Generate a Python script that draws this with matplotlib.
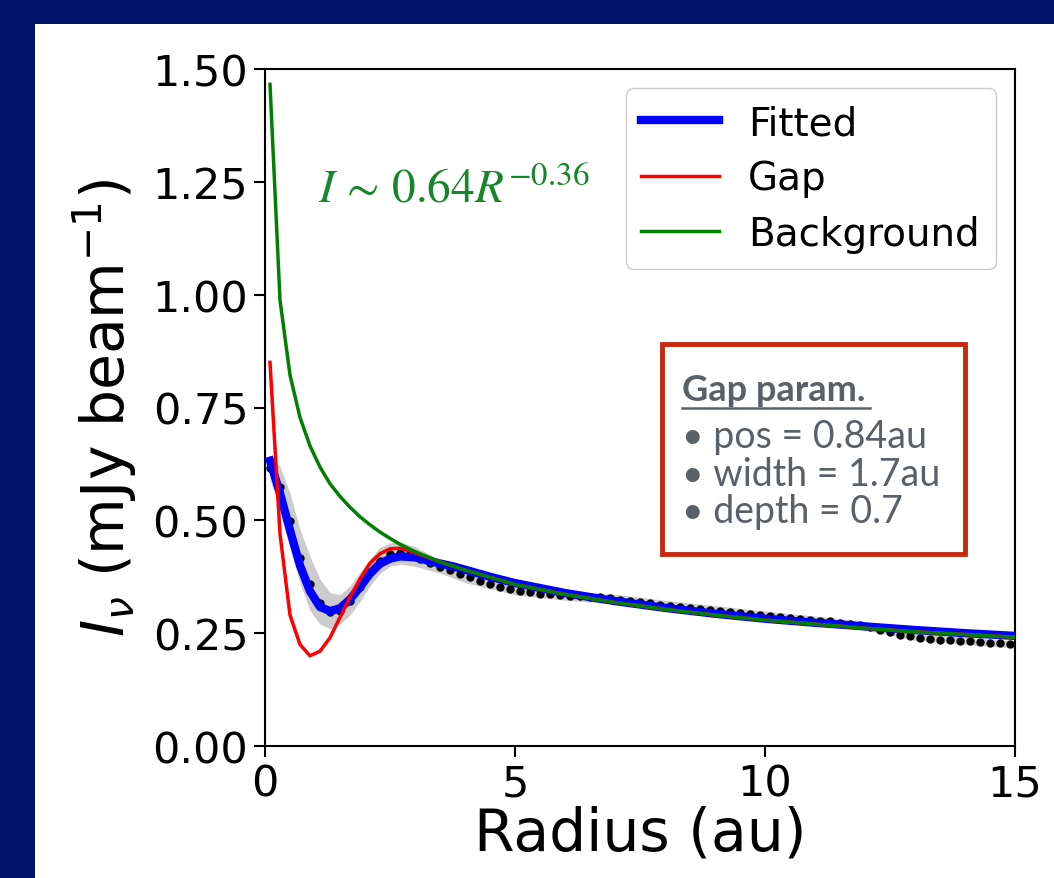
import numpy as np
import matplotlib.pyplot as plt
from matplotlib.patches import Rectangle
from matplotlib.lines import Line2D

# observed profile (black dots)
r_obs = [0.1, 0.3, 0.5, 0.7, 0.9, 1.1, 1.3, 1.5, 1.7, 1.9,
         2.1, 2.3, 2.5, 2.7, 2.9, 3.1, 3.3, 3.5, 3.7, 3.9,
         4.1, 4.3, 4.5, 4.7, 4.9, 5.1, 5.3, 5.5, 5.7, 5.9,
         6.1, 6.3, 6.5, 6.7, 6.9, 7.1, 7.3, 7.5, 7.7, 7.9,
         8.1, 8.3, 8.5, 8.7, 8.9, 9.1, 9.3, 9.5, 9.7, 9.9,
         10.1, 10.3, 10.5, 10.7, 10.9, 11.1, 11.3, 11.5, 11.7, 11.9,
         12.1, 12.3, 12.5, 12.7, 12.9, 13.1, 13.3, 13.5, 13.7, 13.9,
         14.1, 14.3, 14.5, 14.7, 14.9]
I_obs = [0.615, 0.573, 0.499, 0.416, 0.359, 0.316, 0.297, 0.300, 0.321, 0.353,
         0.385, 0.410, 0.425, 0.428, 0.425, 0.415, 0.405, 0.397, 0.389, 0.381,
         0.374, 0.366, 0.359, 0.352, 0.348, 0.344, 0.341, 0.337, 0.336, 0.334,
         0.333, 0.332, 0.331, 0.330, 0.327, 0.324, 0.321, 0.318, 0.316, 0.313,
         0.311, 0.309, 0.306, 0.304, 0.302, 0.299, 0.297, 0.295, 0.292, 0.290,
         0.288, 0.286, 0.284, 0.282, 0.280, 0.278, 0.276, 0.273, 0.270, 0.267,
         0.263, 0.258, 0.252, 0.247, 0.243, 0.240, 0.237, 0.235, 0.234, 0.233,
         0.232, 0.231, 0.229, 0.228, 0.225]

# grey uncertainty band
r_band = [0.1, 0.3, 0.5, 0.7, 0.9, 1.1, 1.3, 1.5, 1.7, 1.9, 2.1, 2.3, 2.5, 2.7,
          3.0, 3.5, 4.0, 5.0, 6.0, 7.0, 8.0, 9.0, 10.0, 11.0, 12.0, 13.0, 14.0, 15.0]
band_lo = [0.59, 0.52, 0.44, 0.36, 0.30, 0.27, 0.26, 0.27, 0.29, 0.32, 0.355, 0.383, 0.398, 0.403,
           0.398, 0.383, 0.362, 0.335, 0.323, 0.315, 0.303, 0.292, 0.281, 0.270, 0.257, 0.234, 0.225, 0.217]
band_hi = [0.645, 0.62, 0.56, 0.48, 0.42, 0.37, 0.34, 0.335, 0.355, 0.385, 0.415, 0.44, 0.45, 0.452,
           0.442, 0.412, 0.386, 0.356, 0.344, 0.336, 0.323, 0.311, 0.299, 0.288, 0.276, 0.251, 0.241, 0.233]

# fitted (convolved) model
r_fit = [0.1, 0.3, 0.5, 0.7, 0.9, 1.1, 1.3, 1.5, 1.7, 1.9, 2.1, 2.3, 2.5, 2.7,
         3.0, 3.4, 3.8, 4.5, 5.0, 6.0, 7.0, 8.0, 9.0, 10.0, 11.0, 12.0, 13.0, 14.0, 15.0]
I_fit = [0.632, 0.560, 0.478, 0.400, 0.343, 0.308, 0.299, 0.305, 0.325, 0.352, 0.382, 0.404, 0.415, 0.420,
         0.418, 0.407, 0.397, 0.375, 0.361, 0.339, 0.321, 0.306, 0.293, 0.282, 0.273, 0.265, 0.257, 0.250, 0.244]

# gap model and power-law background
r_mod = [0.1, 0.3, 0.5, 0.7, 0.9, 1.1, 1.3, 1.5, 1.7, 1.9, 2.1, 2.3, 2.5, 2.7, 2.9, 3.1,
         3.5, 4.0, 5.0, 6.0, 7.0, 8.0, 9.0, 10.0, 11.0, 12.0, 13.0, 14.0, 15.0]
I_gap = [0.85, 0.47, 0.29, 0.225, 0.20, 0.21, 0.24, 0.285, 0.33, 0.37, 0.405, 0.426, 0.437, 0.438, 0.432, 0.424,
         0.408, 0.390, 0.358, 0.336, 0.318, 0.303, 0.290, 0.279, 0.270, 0.261, 0.253, 0.247, 0.241]
I_bkg = [1.466, 0.988, 0.822, 0.728, 0.665, 0.618, 0.581, 0.553, 0.529, 0.508, 0.490, 0.474, 0.460, 0.447, 0.436, 0.426,
         0.408, 0.390, 0.358, 0.336, 0.318, 0.303, 0.290, 0.279, 0.270, 0.261, 0.253, 0.247, 0.241]

gap_lines = ["• pos = 0.84au", "• width = 1.7au", "• depth = 0.7"]

fig = plt.figure(figsize=(10.54, 8.79), dpi=100)
fig.patch.set_facecolor('#021468')
fig.add_artist(Rectangle((35 / 1054, 0), 1, 1 - 25 / 879, transform=fig.transFigure,
                         facecolor='white', edgecolor='none', zorder=0))

ax = fig.add_axes([265 / 1054, 1 - 747 / 879, 750 / 1054, 677 / 879])
ax.fill_between(r_band, band_lo, band_hi, color='#cccccc', linewidth=0, zorder=1)
ax.plot(r_obs, I_obs, 'o', color='black', markersize=5, zorder=2)
ax.plot(r_fit, I_fit, color='blue', linewidth=6, label='Fitted', zorder=3)
ax.plot(r_mod, I_gap, color='red', linewidth=2.5, label='Gap', zorder=4)
ax.plot(r_mod, I_bkg, color='green', linewidth=2.5, label='Background', zorder=5)

ax.set_xlim(0, 15)
ax.set_ylim(0, 1.5)
ax.set_xticks([0, 5, 10, 15])
ax.set_yticks([0, 0.25, 0.5, 0.75, 1.0, 1.25, 1.5])
ax.yaxis.set_major_formatter(plt.FormatStrFormatter('%.2f'))
ax.tick_params(labelsize=31, length=8, width=1.5, pad=4)
for s in ax.spines.values():
    s.set_linewidth(1.5)

ax.set_xlabel('Radius (au)', fontsize=42, labelpad=0)
ax.set_ylabel(r'$I_\nu$ (mJy beam$^{-1}$)', fontsize=42, labelpad=10)

ax.legend(loc='upper right', fontsize=28, handlelength=2.0, handletextpad=0.75,
          labelspacing=0.45, borderpad=0.4, framealpha=1, edgecolor='#cccccc')

ax.text(0.0707, 0.823, r'$I\,\sim\,0.64R^{-0.36}$', transform=ax.transAxes,
        color='#15862a', fontsize=34, va='center', ha='left', math_fontfamily='stix')

# gap parameter box
ax.add_patch(Rectangle((0.529, 0.2836), 0.404, 0.3104, transform=ax.transAxes,
                       facecolor='white', edgecolor='#c8290e', linewidth=3.5, zorder=10,
                       clip_on=False))
txt_col = '#5a6068'
ax.text(0.556, 0.527, 'Gap param.', transform=ax.transAxes, fontsize=26,
        fontweight='bold', family='Lato', color=txt_col, va='center', zorder=11)
ax.add_line(Line2D([0.556, 0.806], [0.500, 0.500], transform=ax.transAxes,
                   color=txt_col, linewidth=1.8, zorder=11))
for i, line in enumerate(gap_lines):
    ax.text(0.556, 0.458 - i * 0.0555, line, transform=ax.transAxes, fontsize=27,
            family='Lato', color=txt_col, va='center', zorder=11)

fig.savefig('out.png', dpi=100, facecolor=fig.get_facecolor())
